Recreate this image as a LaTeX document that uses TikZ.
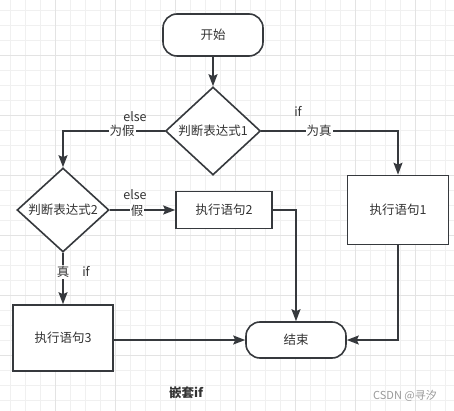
\documentclass[tikz,border=0pt]{standalone}
\usepackage{fontspec}
\setmainfont{Noto Sans CJK SC}
\usetikzlibrary{shapes.geometric,arrows.meta}

\definecolor{linegray}{HTML}{36393D}
\definecolor{textgray}{HTML}{333333}
\definecolor{gridminor}{HTML}{F0F0F0}
\definecolor{gridmajor}{HTML}{E3E3E3}

\tikzset{
  box/.style={draw=linegray, line width=1.6pt, fill=white, text=textgray,
    inner sep=0pt, font=\fontsize{12.5}{15}\selectfont},
  term/.style={box, rectangle, rounded corners=14pt},
  decide/.style={box, diamond},
  lbl/.style={text=textgray, inner sep=1pt, font=\fontsize{12.5}{15}\selectfont},
  flow/.style={draw=linegray, line width=1.6pt,
    -{Stealth[length=12pt,width=9pt,inset=2pt]}},
}

\begin{document}
\begin{tikzpicture}[x=1pt,y=-1pt]
  \useasboundingbox (0,0) rectangle (454,411);
  % background grid
  \foreach \g in {10,25,...,445}
    \draw[gridminor, line width=0.8pt] (\g,0) -- (\g,411);
  \foreach \g in {10,25,...,400}
    \draw[gridminor, line width=0.8pt] (0,\g) -- (454,\g);
  \foreach \g in {55,115,...,415}
    \draw[gridmajor, line width=0.8pt] (\g,0) -- (\g,411);
  \foreach \g in {55,115,...,355}
    \draw[gridmajor, line width=0.8pt] (0,\g) -- (454,\g);

  \node[term, minimum width=100pt, minimum height=42pt] (start) at (213,35) {开始};
  \node[decide, minimum width=95pt, minimum height=88pt] (d1) at (213,131) {判断表达式1};
  \node[decide, minimum width=92pt, minimum height=84pt] (d2) at (63,210) {判断表达式2};
  \node[box, minimum width=101pt, minimum height=69pt] (p1) at (398,210) {执行语句1};
  \node[box, minimum width=96pt, minimum height=37pt] (p2) at (224,210) {执行语句2};
  \node[box, minimum width=100pt, minimum height=66pt] (p3) at (63,338) {执行语句3};
  \node[term, minimum width=100pt, minimum height=36pt] (end) at (296,340) {结束};

  \draw[flow] (start) -- (d1);
  \draw[flow] (d1.west) -| (d2.north);
  \draw[flow] (d1.east) -| (p1.north);
  \draw[flow] (d2.east) -- (p2.west);
  \draw[flow] (d2.south) -- (p3.north);
  \draw[flow] (p2.east) -| (end.north);
  \draw[flow] (p1.south) |- (end.east);
  \draw[flow] (p3.east |- end.west) -- (end.west);

  \node[lbl, fill=white] (no1) at (122,131) {为假};
  \node[lbl] (else1) at (135,117) {else};
  \node[lbl] (if1) at (298,111) {if};
  \node[lbl, fill=white] (yes1) at (319,131) {为真};
  \node[lbl] (else2) at (135,195) {else};
  \node[lbl, fill=white] (no2) at (137,211) {假};
  \node[lbl, fill=white] (yes2) at (63,272) {真};
  \node[lbl] (if2) at (86,271) {if};

  \node[lbl, font=\fontsize{12.5}{15}\selectfont\bfseries] (title) at (186,393) {嵌套if};
  \node[text=black!40, inner sep=0pt, font=\fontsize{11}{13}\selectfont] (mark) at (405,396) {CSDN @寻汐};
\end{tikzpicture}
\end{document}
